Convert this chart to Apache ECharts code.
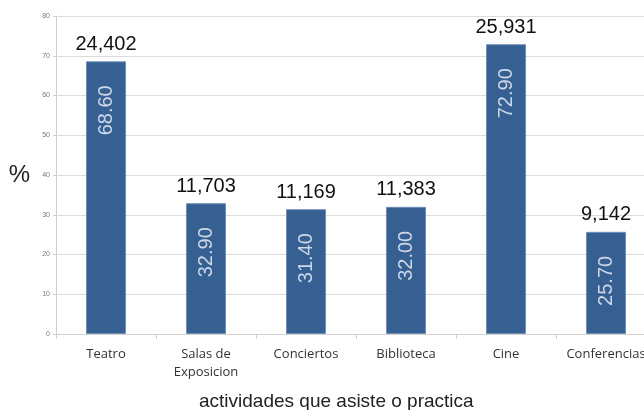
<!DOCTYPE html>
<html>
<head>
<meta charset="utf-8">
<script src="https://cdn.jsdelivr.net/npm/echarts@6/dist/echarts.min.js"></script>
<style>
  html, body { margin: 0; padding: 0; background: #fff; }
  #chart { width: 644px; height: 410px; }
</style>
</head>
<body>
<div id="chart"></div>
<script>
// actividades y porcentajes
const categories = ['Teatro', 'Salas de\nExposicion', 'Conciertos', 'Biblioteca', 'Cine', 'Conferencias'];
const percentValues = [68.6, 32.9, 31.4, 32.0, 72.9, 25.7];
const countValues = [24402, 11703, 11169, 11383, 25931, 9142];
const yTicks = [0, 10, 20, 30, 40, 50, 60, 70, 80];

const myChart = echarts.init(document.getElementById('chart'));

const option = {
  animation: false,
  backgroundColor: '#fff',
  title: {
    text: 'actividades que asiste o practica',
    left: 194,
    top: 387,
    textStyle: {
      fontFamily: 'Liberation Sans',
      fontSize: 19,
      fontWeight: 'normal',
      color: '#222'
    }
  },
  grid: {
    left: 56,
    top: 16,
    width: 600,
    height: 318,
    outerBoundsMode: 'none'
  },
  xAxis: {
    type: 'category',
    data: categories,
    axisLine: { lineStyle: { color: '#d0d0d0' } },
    axisTick: { show: true, length: 5, lineStyle: { color: '#d0d0d0' } },
    axisLabel: {
      interval: 0,
      margin: 11,
      fontFamily: 'Open Sans',
      fontSize: 13,
      lineHeight: 18,
      color: '#333'
    }
  },
  yAxis: {
    type: 'value',
    min: yTicks[0],
    max: yTicks[yTicks.length - 1],
    interval: 10,
    name: '%',
    nameLocation: 'middle',
    nameRotate: 0,
    nameGap: 26,
    nameTextStyle: {
      fontFamily: 'Liberation Sans',
      fontSize: 24,
      color: '#222'
    },
    axisLine: { show: true, lineStyle: { color: '#d0d0d0' } },
    axisTick: { show: true, length: 3, lineStyle: { color: '#d0d0d0' } },
    axisLabel: {
      fontFamily: 'Liberation Sans',
      fontSize: 7,
      color: '#777',
      margin: 6
    },
    splitLine: { lineStyle: { color: '#dcdcdc' } }
  },
  series: [
    {
      name: 'porcentaje',
      type: 'bar',
      barWidth: 40,
      data: percentValues,
      itemStyle: {
        color: '#365f92',
        borderColor: '#6f8fb8',
        borderWidth: 1
      },
      label: {
        show: true,
        position: 'insideTop',
        distance: 24,
        rotate: 90,
        align: 'right',
        verticalAlign: 'middle',
        fontFamily: 'Liberation Sans',
        fontSize: 20,
        color: '#ccd7e7',
        formatter: p => p.value.toFixed(2)
      }
    },
    {
      name: 'personas',
      type: 'bar',
      barWidth: 40,
      barGap: '-100%',
      data: percentValues,
      silent: true,
      itemStyle: { color: 'transparent' },
      label: {
        show: true,
        position: 'top',
        distance: 7,
        fontFamily: 'Liberation Sans',
        fontSize: 20,
        color: '#111',
        formatter: p => countValues[p.dataIndex].toLocaleString('en-US')
      }
    }
  ]
};

myChart.setOption(option);
</script>
</body>
</html>
